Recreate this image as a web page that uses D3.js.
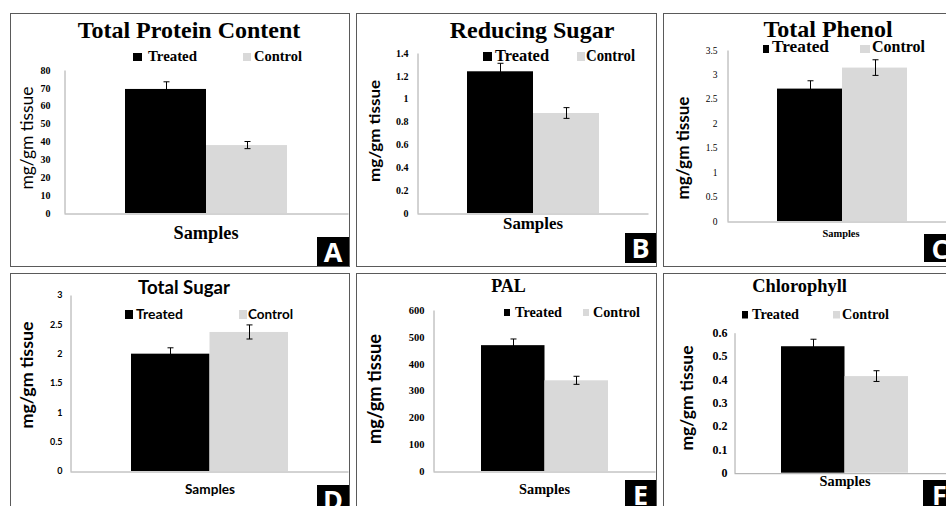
<!DOCTYPE html>
<html>
<head>
<meta charset="utf-8">
<script src="https://cdn.jsdelivr.net/npm/d3@7"></script>
<style>
    body { margin: 0; background: #ffffff; }
    svg { display: block; }
</style>
</head>
<body>
<div id="chart"></div>
<script>
// Data
const panelTags = ["A", "B", "C", "D", "E", "F"];
const titles = ["Total Protein Content", "Reducing Sugar", "Total Phenol", "Total Sugar", "PAL", "Chlorophyll"];
const seriesNames = ["Treated", "Control"];
const treatedValues = [69.4, 1.24, 2.71, 2.0, 469, 0.542];
const controlValues = [38.0, 0.875, 3.14, 2.37, 338, 0.414];
const treatedErrors = [4, 0.07, 0.16, 0.1, 23, 0.03];
const controlErrors = [2, 0.047, 0.16, 0.12, 15, 0.023];
const yMax = [80, 1.4, 3.5, 3, 600, 0.6];
const yStep = [10, 0.2, 0.5, 0.5, 100, 0.1];
const xTitle = "Samples";
const yTitle = "mg/gm tissue";

const SERIF = "'Liberation Serif', 'Times New Roman', serif";
const SANS = "Lato, 'Open Sans', sans-serif";
const colors = { Treated: "#000000", Control: "#d9d9d9" };

// Where each panel sits (layout only)
const layout = [
    { box: [10, 13, 349, 266], tag: [317, 237, 32, 29], plot: { l: 64, r: 348, t: 70, b: 213 }, bars: [125, 287],
      title: { x: 189, y: 38, size: 24, font: SERIF },
      legend: { y: 61, size: 14.5, font: SERIF, sq: [[133, 53, 9, 8], [243, 53, 8, 8]], tx: [148, 254], len: [49, 48] },
      ticks: { x: 50, size: 10, font: SERIF, weight: "bold" },
      ylab: { x: 27, y: 138, len: 103, size: 17, weight: "normal" },
      xlab: { x: 206, y: 239, size: 18, font: SERIF, len: 65 } },
    { box: [356, 13, 656, 266], tag: [625, 233, 31, 30], plot: { l: 417, r: 648, t: 53, b: 213 }, bars: [467, 599],
      title: { x: 532, y: 38, size: 24, font: SERIF },
      legend: { y: 60.5, size: 16, font: SERIF, sq: [[483, 52, 9, 9], [577, 52, 8, 9]], tx: [495, 586], len: [54, 49] },
      ticks: { x: 408, size: 10, font: SERIF, weight: "bold" },
      ylab: { x: 375, y: 131, len: 102, size: 16, weight: "bold" },
      xlab: { x: 533, y: 229, size: 17, font: SERIF, len: 60 } },
    { box: [663, 13, 956, 266], tag: [924, 234, 32, 28], plot: { l: 727, r: 946, t: 50, b: 221 }, bars: [777, 907],
      title: { x: 828, y: 37, size: 24, font: SERIF },
      legend: { y: 52, size: 16, font: SERIF, sq: [[763, 45, 6, 8], [860, 45, 10, 8]], tx: [772, 872], len: [57, 53] },
      ticks: { x: 717, size: 9.5, font: SERIF, weight: "normal" },
      ylab: { x: 683, y: 148, len: 103, size: 17, weight: "bold" },
      xlab: { x: 841, y: 237, size: 10, font: SERIF, len: 37 } },
    { box: [10, 273, 349, 512], tag: [317, 485, 32, 29], plot: { l: 70, r: 348, t: 295, b: 471 }, bars: [131, 288],
      title: { x: 184, y: 294, size: 19, font: SANS, len: 92 },
      legend: { y: 319, size: 14, font: SANS, sq: [[125, 310, 8, 9], [239, 310, 8, 9]], tx: [136, 248], len: [47, 45] },
      ticks: { x: 62, size: 9, font: SANS, weight: "bold" },
      ylab: { x: 27, y: 375, len: 107, size: 17, weight: "bold" },
      xlab: { x: 210, y: 494, size: 14, font: SANS, len: 50 } },
    { box: [356, 273, 656, 512], tag: [625, 480, 31, 29], plot: { l: 433, r: 655, t: 310, b: 471 }, bars: [481, 608],
      title: { x: 508.5, y: 292, size: 18, font: SERIF },
      legend: { y: 317, size: 14, font: SERIF, sq: [[504, 309, 6, 7], [583, 309, 6, 7]], tx: [515, 593], len: [47, 47] },
      ticks: { x: 424, size: 10.5, font: SERIF, weight: "bold" },
      ylab: { x: 375, y: 389, len: 110, size: 18, weight: "bold" },
      xlab: { x: 544.5, y: 494, size: 14.3, font: SERIF, len: 51 } },
    { box: [663, 273, 956, 512], tag: [923, 480, 33, 29], plot: { l: 734, r: 946, t: 332.7, b: 472.7 }, bars: [781, 908],
      title: { x: 799.5, y: 292, size: 18.4, font: SERIF },
      legend: { y: 319, size: 14, font: SERIF, sq: [[742, 311, 6, 7.5], [833, 311, 7, 7.5]], tx: [752, 842], len: [47, 47] },
      ticks: { x: 727, size: 12, font: SERIF, weight: "bold" },
      ylab: { x: 687, y: 398, len: 105, size: 17, weight: "bold" },
      xlab: { x: 845, y: 486, size: 14.3, font: SERIF, len: 51 } }
];

const svg = d3.select("#chart")
    .append("svg")
    .attr("width", 946)
    .attr("height", 506);

svg.append("rect")
    .attr("width", 946)
    .attr("height", 506)
    .attr("fill", "#ffffff");

const fmt = d3.format(".2~f");

panelTags.forEach((tag, i) => {
    const L = layout[i];
    const g = svg.append("g").attr("class", "panel-" + tag);
    const values = [
        { name: seriesNames[0], value: treatedValues[i], err: treatedErrors[i] },
        { name: seriesNames[1], value: controlValues[i], err: controlErrors[i] }
    ];

    // Panel frame
    g.append("rect")
        .attr("x", L.box[0] + 0.5)
        .attr("y", L.box[1] + 0.5)
        .attr("width", L.box[2] - L.box[0])
        .attr("height", L.box[3] - L.box[1])
        .attr("fill", "none")
        .attr("stroke", "#5a5a5a")
        .attr("stroke-width", 1);

    // Scales
    const x = d3.scaleBand()
        .domain(seriesNames)
        .range(L.bars)
        .padding(0);

    const y = d3.scaleLinear()
        .domain([0, yMax[i]])
        .range([L.plot.b, L.plot.t]);

    const tickVals = d3.range(0, Math.round(yMax[i] / yStep[i]) + 1).map(k => +(k * yStep[i]).toFixed(4));

    // Y axis
    const yAxis = g.append("g")
        .attr("transform", `translate(${L.plot.l + 0.5},0)`)
        .call(d3.axisLeft(y).tickValues(tickVals).tickSize(0).tickSizeOuter(0)
            .tickPadding(L.plot.l - L.ticks.x).tickFormat(fmt));
    yAxis.select(".domain").attr("stroke", "#a6a6a6");
    yAxis.selectAll("text")
        .attr("font-family", L.ticks.font)
        .attr("font-size", L.ticks.size)
        .attr("font-weight", L.ticks.weight)
        .attr("fill", "#000");

    // X axis (no tick labels)
    const xAxis = g.append("g")
        .attr("transform", `translate(0,${L.plot.b + 0.5})`)
        .call(d3.axisBottom(d3.scaleBand().domain([xTitle]).range([L.plot.l, L.plot.r]))
            .tickSize(0).tickSizeOuter(0).tickFormat(""));
    xAxis.select(".domain").attr("stroke", "#a6a6a6");

    // Bars
    g.selectAll(".bar")
        .data(values)
        .enter()
        .append("rect")
        .attr("class", "bar")
        .attr("x", d => x(d.name))
        .attr("y", d => y(d.value))
        .attr("width", x.bandwidth())
        .attr("height", d => y(0) - y(d.value))
        .attr("fill", d => colors[d.name]);

    // Error bars
    const eb = g.selectAll(".err")
        .data(values)
        .enter()
        .append("g")
        .attr("class", "err")
        .attr("transform", d => `translate(${Math.round(x(d.name) + x.bandwidth() / 2) + 0.5},0)`);
    eb.append("line")
        .attr("y1", d => y(d.value + d.err))
        .attr("y2", d => y(d.value - d.err))
        .attr("stroke", "#000");
    eb.append("line")
        .attr("x1", -3).attr("x2", 3)
        .attr("y1", d => y(d.value + d.err))
        .attr("y2", d => y(d.value + d.err))
        .attr("stroke", "#000");
    eb.append("line")
        .attr("x1", -3).attr("x2", 3)
        .attr("y1", d => y(d.value - d.err))
        .attr("y2", d => y(d.value - d.err))
        .attr("stroke", "#000");

    // Title
    const t = g.append("text")
        .attr("x", L.title.x)
        .attr("y", L.title.y)
        .attr("text-anchor", "middle")
        .attr("font-family", L.title.font)
        .attr("font-size", L.title.size)
        .attr("font-weight", "bold")
        .text(titles[i]);
    if (L.title.len) t.attr("textLength", L.title.len).attr("lengthAdjust", "spacingAndGlyphs");

    // Legend
    seriesNames.forEach((s, k) => {
        const sq = L.legend.sq[k];
        g.append("rect")
            .attr("x", sq[0])
            .attr("y", sq[1])
            .attr("width", sq[2])
            .attr("height", sq[3])
            .attr("fill", colors[s]);
        g.append("text")
            .attr("x", L.legend.tx[k])
            .attr("y", L.legend.y)
            .attr("font-family", L.legend.font)
            .attr("font-size", L.legend.size)
            .attr("font-weight", "bold")
            .attr("textLength", L.legend.len[k])
            .attr("lengthAdjust", "spacingAndGlyphs")
            .text(s);
    });

    // Axis titles
    g.append("text")
        .attr("transform", `translate(${L.ylab.x},${L.ylab.y}) rotate(-90)`)
        .attr("dy", "0.33em")
        .attr("text-anchor", "middle")
        .attr("font-family", SANS)
        .attr("font-size", L.ylab.size)
        .attr("font-weight", L.ylab.weight)
        .attr("textLength", L.ylab.len)
        .attr("lengthAdjust", "spacingAndGlyphs")
        .text(yTitle);

    g.append("text")
        .attr("x", L.xlab.x)
        .attr("y", L.xlab.y)
        .attr("text-anchor", "middle")
        .attr("font-family", L.xlab.font)
        .attr("font-size", L.xlab.size)
        .attr("font-weight", "bold")
        .attr("textLength", L.xlab.len)
        .attr("lengthAdjust", "spacingAndGlyphs")
        .text(xTitle);

    // Panel letter
    g.append("rect")
        .attr("x", L.tag[0])
        .attr("y", L.tag[1])
        .attr("width", L.tag[2])
        .attr("height", L.tag[3])
        .attr("fill", "#000");
    g.append("text")
        .attr("x", L.tag[0] + L.tag[2] / 2)
        .attr("y", L.tag[1] + 25)
        .attr("text-anchor", "middle")
        .attr("font-family", "'Open Sans', sans-serif")
        .attr("font-size", 27)
        .attr("font-weight", "bold")
        .attr("fill", "#fff")
        .text(tag);
});
</script>
</body>
</html>
